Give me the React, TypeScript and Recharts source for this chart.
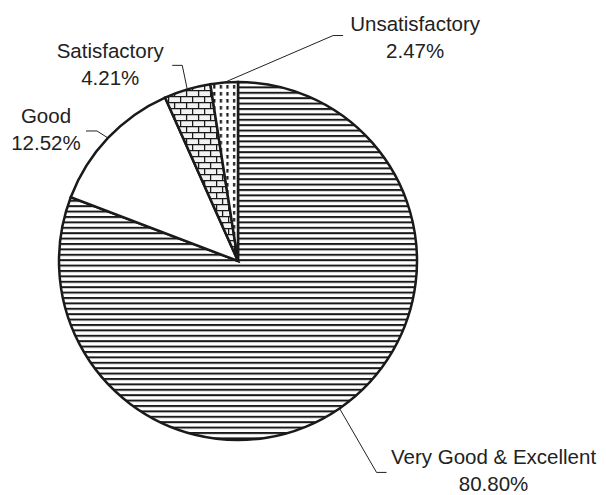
import { Cell, Pie, PieChart } from "recharts";

const categories = ["Very Good & Excellent", "Good", "Satisfactory", "Unsatisfactory"];
const shares = [80.8, 12.52, 4.21, 2.47];
const fills = ["url(#hlines)", "#ffffff", "url(#bricks)", "url(#dots)"];

const data = categories.map((name, i) => ({ name, value: shares[i] }));

// leader layout per slice: elbow offset from the arc point, end offset from elbow,
// text offset from the end of the leader
const leaders = [
  { elbow: [37, 64], end: [10, 0], text: [107, -8] },
  { elbow: [-11, -7], end: [-11, 0], text: [-40, -8] },
  { elbow: [-5, -24], end: [-10, 0], text: [-62, -7] },
  { elbow: [109, -47], end: [10, 0], text: [72, -5] },
];

const RAD = Math.PI / 180;

const renderLabel = (props: any) => {
  const { cx, cy, midAngle, outerRadius, index, name, value } = props;
  const sx = cx + outerRadius * Math.cos(-midAngle * RAD);
  const sy = cy + outerRadius * Math.sin(-midAngle * RAD);
  const l = leaders[index];
  const ex = sx + l.elbow[0];
  const ey = sy + l.elbow[1];
  const tx = ex + l.end[0];
  const ty = ey + l.end[1];
  return (
    <g>
      <path
        d={`M${sx},${sy}L${ex},${ey}L${tx},${ty}`}
        stroke="#222"
        strokeWidth={1}
        fill="none"
      />
      <text
        x={tx + l.text[0]}
        y={ty + l.text[1]}
        textAnchor="middle"
        fill="#222"
        fontSize={20.5}
        fontFamily="'Liberation Sans', Arial, sans-serif"
      >
        <tspan x={tx + l.text[0]}>{name}</tspan>
        <tspan x={tx + l.text[0]} dy={27}>{`${value.toFixed(2)}%`}</tspan>
      </text>
    </g>
  );
};

export default function App() {
  return (
    <div style={{ position: "absolute", left: 0, top: 0, background: "#fff" }}>
      <PieChart width={606} height={495} margin={{ top: 0, right: 0, bottom: 0, left: 0 }}>
        <defs>
          <pattern id="hlines" patternUnits="userSpaceOnUse" width={8} height={5.4}>
            <rect x={0} y={0} width={8} height={5.4} fill="#fff" />
            <rect x={0} y={0} width={8} height={2} fill="#1a1a1a" />
          </pattern>
          <pattern id="bricks" patternUnits="userSpaceOnUse" width={12} height={12}>
            <rect x={0} y={0} width={12} height={12} fill="#f2f2f2" />
            <path
              d="M0,0.6H12M0,6.6H12M0.6,0V6M6.6,6V12"
              stroke="#1a1a1a"
              strokeWidth={1.3}
            />
          </pattern>
          <pattern id="dots" patternUnits="userSpaceOnUse" width={6.6} height={7}>
            <rect x={0} y={0} width={6.6} height={7} fill="#fff" />
            <rect x={2} y={1} width={2.2} height={3.6} fill="#1a1a1a" />
          </pattern>
        </defs>
        <Pie
          data={data}
          dataKey="value"
          nameKey="name"
          cx={238}
          cy={261}
          outerRadius={179}
          startAngle={90}
          endAngle={-270}
          label={renderLabel}
          labelLine={false}
          isAnimationActive={false}
        >
          {data.map((d, i) => (
            <Cell key={d.name} fill={fills[i]} stroke="#1a1a1a" strokeWidth={2.5} />
          ))}
        </Pie>
      </PieChart>
    </div>
  );
}
